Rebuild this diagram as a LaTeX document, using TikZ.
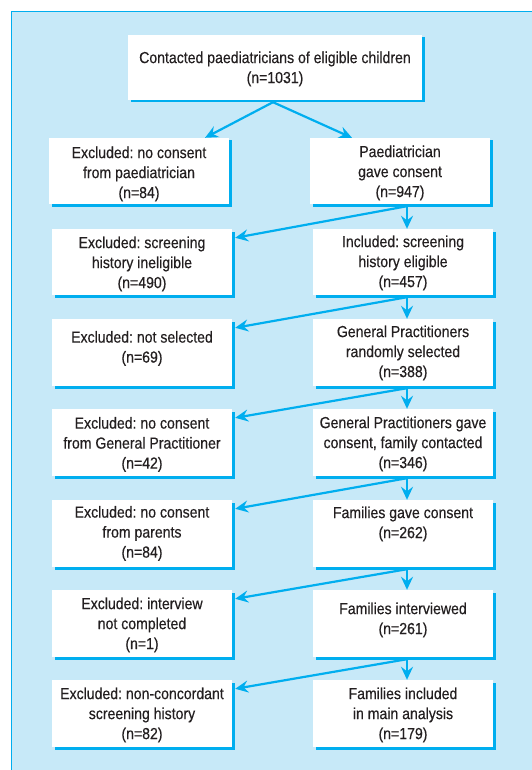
\documentclass[tikz,border=0pt]{standalone}
\usepackage{fontspec}
\setmainfont{Liberation Sans}[FakeStretch=0.88,FakeBold=0.35]
\frenchspacing
\usetikzlibrary{arrows.meta,calc,shadows}
\definecolor{cyanb}{HTML}{00AEEF}
\definecolor{panel}{HTML}{C7E9F8}
\definecolor{ink}{HTML}{231F20}
\begin{document}
\begin{tikzpicture}[x=1pt,y=-1pt,
  box/.style={rectangle, fill=white, inner sep=0pt,
    drop shadow={shadow xshift=2.5pt, shadow yshift=-2.5pt, fill=cyanb, opacity=1}},
  lbox/.style={box, minimum width=180pt, minimum height=67pt},
  txt/.style={anchor=north, inner sep=0pt, align=center, text=ink,
    font=\fontsize{16}{20}\selectfont\frenchspacing},
  arr/.style={draw=cyanb, line width=2.2pt, -{Stealth[length=13pt,width=12pt,inset=4.5pt]}}]
\useasboundingbox (0,0) rectangle (532,770);
\fill[white] (0,0) rectangle (532,770);
\draw[fill=panel, draw=cyanb, line width=1pt] (11,12) rectangle (545,785);

% boxes
\node[box, minimum width=294pt, minimum height=65pt] (top) at (275,67.5) {};
\node[box, minimum width=180pt, minimum height=66pt] (l2) at (139,171) {};
\node[box, minimum width=180pt, minimum height=66pt] (r2) at (400,171) {};
\node[lbox, minimum height=66pt] (l3) at (142,262) {};
\node[lbox, minimum height=66pt] (r3) at (403,262) {};
\node[lbox] (l4) at (142,352.5) {};
\node[lbox] (r4) at (403,352.5) {};
\node[lbox] (l5) at (142,442.5) {};
\node[lbox] (r5) at (403,442.5) {};
\node[lbox] (l6) at (142,533.5) {};
\node[lbox] (r6) at (403,533.5) {};
\node[lbox] (l7) at (142,623.5) {};
\node[lbox] (r7) at (403,623.5) {};
\node[lbox] (l8) at (142,713.5) {};
\node[lbox] (r8) at (403,713.5) {};

% texts
\node[txt] at ($(top.north)+(0,16.5)$) {Contacted paediatricians of eligible children\\(n=1031)};
\node[txt] at ($(l2.north)+(0,8.5)$) {Excluded: no consent\\from paediatrician\\(n=84)};
\node[txt] at ($(r2.north)+(0,7.5)$) {Paediatrician\\gave consent\\(n=947)};
\node[txt] at ($(l3.north)+(0,7.5)$) {Excluded: screening\\history ineligible\\(n=490)};
\node[txt] at ($(r3.north)+(0,6.5)$) {Included: screening\\history eligible\\(n=457)};
\node[txt] at ($(l4.north)+(0,12)$) {Excluded: not selected\\(n=69)};
\node[txt] at ($(r4.north)+(0,6.5)$) {General Practitioners\\randomly selected\\(n=388)};
\node[txt] at ($(l5.north)+(0,8)$) {Excluded: no consent\\from General Practitioner\\(n=42)};
\node[txt] at ($(r5.north)+(0,7.5)$) {General Practitioners gave\\consent, family contacted\\(n=346)};
\node[txt] at ($(l6.north)+(0,6)$) {Excluded: no consent\\from parents\\(n=84)};
\node[txt] at ($(r6.north)+(0,6.5)$) {Families gave consent\\(n=262)};
\node[txt] at ($(l7.north)+(0,7.5)$) {Excluded: interview\\not completed\\(n=1)};
\node[txt] at ($(r7.north)+(0,12.5)$) {Families interviewed\\(n=261)};
\node[txt] at ($(l8.north)+(0,7.5)$) {Excluded: non-concordant\\screening history\\(n=82)};
\node[txt] at ($(r8.north)+(0,7.5)$) {Families included\\in main analysis\\(n=179)};

% connectors
\coordinate (colx) at (407,0);
\coordinate (t0) at ($(top.south)+(-2,2)$);
\draw[arr] (t0) -- ($(l2.north)+(66,0)$);
\draw[arr] (t0) -- ($(r2.north)+(-48,0)$);
\foreach \a/\b/\c in {r2/r3/l3, r3/r4/l4, r4/r5/l5, r5/r6/l6, r6/r7/l7, r7/r8/l8}{
  \coordinate (s) at ($(\a.south -| colx)+(0,2)$);
  \draw[arr] (s) -- (\b.north -| colx);
  \draw[arr] (s) -- ($(\c.north east)+(3,9)$);
}
\end{tikzpicture}
\end{document}
